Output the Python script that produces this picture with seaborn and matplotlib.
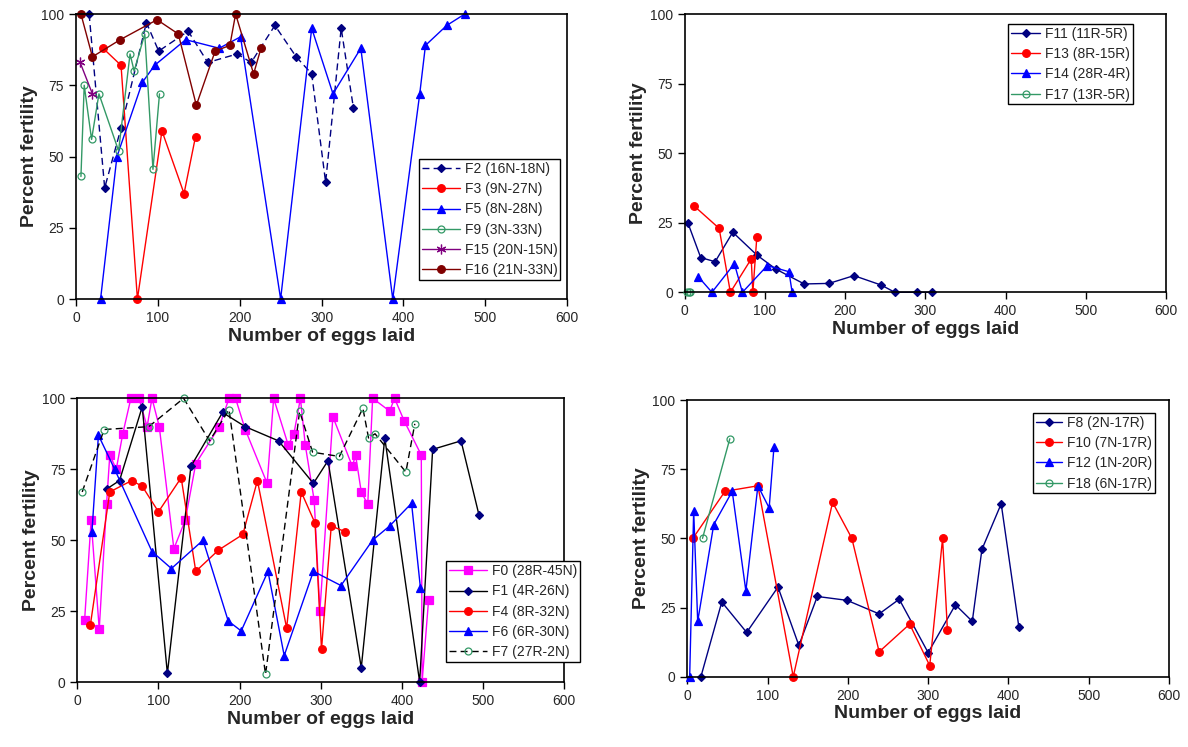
import numpy as np
import pandas as pd
import seaborn as sns
import matplotlib.pyplot as plt

# ---- data (eggs laid, percent fertility) ----
# top left panel
f2_x = [16, 35, 55, 86, 101, 137, 161, 197, 214, 243, 269, 288, 305, 324, 339]
f2_y = [100, 39, 60, 97, 87, 94, 83, 86, 83, 96, 85, 79, 41, 95, 67]
f3_x = [33, 55, 75, 105, 132, 146]
f3_y = [88, 82, 0, 59, 37, 57]
f5_x = [30, 50, 81, 96, 134, 175, 201, 250, 288, 314, 348, 387, 420, 427, 453, 475]
f5_y = [0, 50, 76, 82, 91, 88, 92, 0, 95, 72, 88, 0, 72, 89, 96, 100]
f9_x = [6, 10, 19, 28, 52, 66, 71, 84, 94, 102]
f9_y = [43, 75, 56, 72, 52, 86, 80, 93, 45.5, 72]
f15_x = [5, 20]
f15_y = [83, 72]
f16_x = [6, 20, 54, 99, 125, 147, 170, 188, 195, 217, 226]
f16_y = [100, 85, 91, 98, 93, 68, 87, 89, 100, 79, 88]

# top right panel
f11_x = [4, 20, 38, 60, 90, 114, 149, 180, 211, 245, 262, 290, 308]
f11_y = [25, 12.5, 11, 21.6, 13.4, 8.3, 3, 3.2, 6, 2.6, 0, 0, 0]
f13_x = [12, 43, 57, 83, 85, 90]
f13_y = [31, 23, 0, 12, 0, 20]
f14_x = [17, 34, 62, 72, 103, 130, 134]
f14_y = [5.6, 0, 10.3, 0, 9.6, 7.4, 0]
f17_x = [3, 5, 7]
f17_y = [0, 0, 0]

# bottom left panel
f0_x = [9, 17, 27, 36, 40, 48, 56, 66, 76, 86, 92, 101, 119, 133, 146, 175, 187,
        195, 207, 234, 242, 260, 267, 275, 281, 292, 299, 315, 339, 343, 350, 358,
        364, 385, 391, 403, 424, 425, 433]
f0_y = [22, 57, 18.6, 62.6, 80, 75, 87.5, 100, 100, 90, 100, 90, 47, 57, 77, 90, 100,
        100, 89, 70, 100, 83.5, 87.5, 100, 83.5, 64, 25, 93.5, 76, 80, 67, 62.6,
        100, 95.5, 100, 92, 80, 0, 29]
f1_x = [36, 52, 80, 111, 140, 179, 207, 248, 291, 309, 350, 379, 422, 438, 473, 495]
f1_y = [68, 71, 97, 3, 76, 95, 90, 85, 70, 78, 5, 86, 0, 82, 85, 59]
f4_x = [16, 40, 67, 80, 100, 128, 146, 174, 204, 222, 258, 276, 293, 301, 313, 330]
f4_y = [20, 67, 71, 69, 60, 72, 39, 46.5, 52, 71, 19, 67, 56, 11.5, 55, 53]
f6_x = [18, 26, 46, 92, 116, 155, 186, 202, 235, 255, 291, 325, 364, 385, 412, 423]
f6_y = [53, 87, 75, 46, 40, 50, 21.5, 18, 39, 9.3, 39, 34, 50, 55, 63, 33]
f7_x = [6, 33, 88, 131, 163, 187, 232, 274, 290, 323, 352, 359, 367, 405, 416]
f7_y = [67, 89, 90, 100, 85, 96, 2.7, 95.4, 81, 79.5, 96.5, 86, 87.5, 74, 91]

# bottom right panel
f8_x = [17, 43, 74, 113, 139, 162, 199, 239, 264, 300, 334, 355, 367, 391, 413]
f8_y = [0, 27, 16, 32.4, 11.3, 29, 27.6, 22.7, 28, 8.7, 26, 20, 46, 62.5, 18]
f10_x = [7, 47, 88, 132, 181, 205, 239, 277, 302, 318, 324]
f10_y = [50, 67, 69, 0, 63, 50, 9, 19, 4, 50, 17]
f12_x = [3, 8, 13, 33, 56, 73, 88, 102, 108]
f12_y = [0, 60, 20, 55, 67, 31, 69, 61, 83]
f18_x = [19, 53]
f18_y = [50, 86]

NAVY = "#000080"
RED = "#FF0000"
BLUE = "#0000FF"
SEA = "#339966"
PURPLE = "#800080"
MAROON = "#800000"
MAGENTA = "#FF00FF"
DASH = (0, (5, 3))

sns.set_style("ticks")
plt.rcParams["font.family"] = ["Liberation Sans", "DejaVu Sans"]

fig = plt.figure(figsize=(11.88, 7.47), dpi=100)
ax_tl = fig.add_axes([0.064, 0.5997, 0.4133, 0.3815])
ax_tr = fig.add_axes([0.5763, 0.6087, 0.4052, 0.3722])
ax_bl = fig.add_axes([0.0651, 0.0870, 0.4097, 0.3798])
ax_br = fig.add_axes([0.5785, 0.0941, 0.4055, 0.3704])


def series(ax, x, y, label, color, marker, ms=5.5, mfc=None, mec=None, ls="-"):
    df = pd.DataFrame({"eggs": x, "fert": y})
    sns.lineplot(data=df, x="eggs", y="fert", ax=ax, label=label, color=color,
                 estimator=None, sort=False, linewidth=1.0, linestyle=ls,
                 marker=marker, markersize=ms,
                 markerfacecolor=mfc if mfc is not None else color,
                 markeredgecolor=mec if mec is not None else color,
                 markeredgewidth=0.9, clip_on=False)


# top left
series(ax_tl, f2_x, f2_y, "F2 (16N-18N)", NAVY, "D", ms=4.5, ls=DASH)
series(ax_tl, f3_x, f3_y, "F3 (9N-27N)", RED, "o", ms=5.5)
series(ax_tl, f5_x, f5_y, "F5 (8N-28N)", BLUE, "^", ms=6)
series(ax_tl, f9_x, f9_y, "F9 (3N-33N)", SEA, "o", ms=5, mfc="none")
series(ax_tl, f15_x, f15_y, "F15 (20N-15N)", PURPLE, (6, 2, 0), ms=7)
series(ax_tl, f16_x, f16_y, "F16 (21N-33N)", MAROON, "o", ms=5.5)

# top right
series(ax_tr, f11_x, f11_y, "F11 (11R-5R)", NAVY, "D", ms=4.5)
series(ax_tr, f13_x, f13_y, "F13 (8R-15R)", RED, "o", ms=5.5)
series(ax_tr, f14_x, f14_y, "F14 (28R-4R)", BLUE, "^", ms=6)
series(ax_tr, f17_x, f17_y, "F17 (13R-5R)", SEA, "o", ms=5, mfc="none")

# bottom left
series(ax_bl, f0_x, f0_y, "F0 (28R-45N)", MAGENTA, "s", ms=6)
series(ax_bl, f1_x, f1_y, "F1 (4R-26N)", "black", "D", ms=4.5, mfc=NAVY, mec=NAVY)
series(ax_bl, f4_x, f4_y, "F4 (8R-32N)", RED, "o", ms=5.5)
series(ax_bl, f6_x, f6_y, "F6 (6R-30N)", BLUE, "^", ms=6)
series(ax_bl, f7_x, f7_y, "F7 (27R-2N)", "black", "o", ms=5, mfc="none", mec=SEA, ls=DASH)

# bottom right
series(ax_br, f8_x, f8_y, "F8 (2N-17R)", NAVY, "D", ms=4.5)
series(ax_br, f10_x, f10_y, "F10 (7N-17R)", RED, "o", ms=5.5)
series(ax_br, f12_x, f12_y, "F12 (1N-20R)", BLUE, "^", ms=6)
series(ax_br, f18_x, f18_y, "F18 (6N-17R)", SEA, "o", ms=5, mfc="none")

# loc, anchor, handle length
legend_pos = {
    ax_tl: ("lower right", (0.986, 0.067), 2.75),
    ax_tr: ("upper right", (0.9315, 0.965), 2.1),
    ax_bl: ("lower right", (1.033, 0.0705), 2.75),
    ax_br: ("upper right", (0.971, 0.953), 1.9),
}

for ax in [ax_tl, ax_tr, ax_bl, ax_br]:
    ax.set_xlim(0, 600)
    ax.set_ylim(0, 100)
    ax.set_xticks(range(0, 601, 100))
    ax.set_yticks([0, 25, 50, 75, 100])
    ax.tick_params(labelsize=10, length=5, width=1, color="black")
    ax.set_xlabel("Number of eggs laid", fontsize=14, fontweight="bold", labelpad=2)
    ax.set_ylabel("Percent fertility", fontsize=14, fontweight="bold", labelpad=2)
    for s in ax.spines.values():
        s.set_color("black")
        s.set_linewidth(1.2)
    loc, anchor, hl = legend_pos[ax]
    leg = ax.legend(loc=loc, bbox_to_anchor=anchor, fontsize=10, frameon=True,
                    fancybox=False, edgecolor="black", framealpha=1,
                    handlelength=hl, labelspacing=0.45, borderpad=0.2,
                    handletextpad=0.35, borderaxespad=0)
    leg.get_frame().set_linewidth(1.0)
    leg.set_clip_on(False)

fig.savefig("out.png", dpi=100)
